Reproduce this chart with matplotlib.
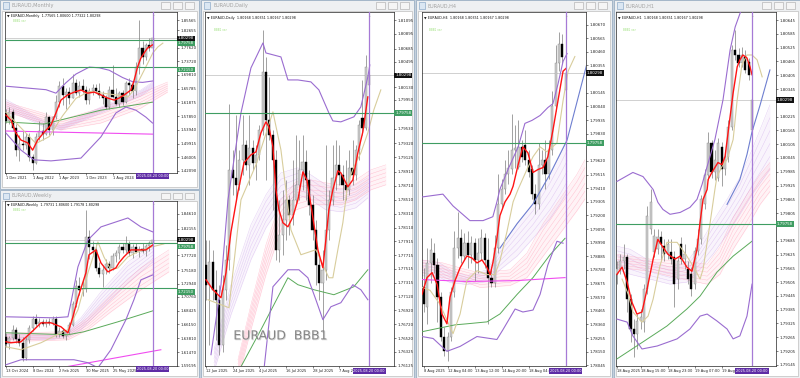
import numpy as np
import matplotlib
matplotlib.use("Agg")
import matplotlib.pyplot as plt
from matplotlib.patches import Rectangle
from matplotlib.transforms import blended_transform_factory
import matplotlib.patheffects as pe

# ==========================================
# data
# ==========================================
last_price = 1.80298
level_hi = 1.79758
level_lo = 1.72150
cursor_label = "2025.08.20 00:00"

# ---- Monthly (Dec 2021 .. Aug 2025), (open, high, low, close)
m_ohlc = [
    (1.588, 1.600, 1.560, 1.565), (1.565, 1.605, 1.555, 1.590), (1.590, 1.600, 1.535, 1.545),
    (1.545, 1.555, 1.465, 1.480), (1.480, 1.525, 1.450, 1.500), (1.500, 1.535, 1.480, 1.495),
    (1.495, 1.530, 1.485, 1.520), (1.520, 1.530, 1.450, 1.460), (1.460, 1.470, 1.425, 1.445),
    (1.445, 1.530, 1.440, 1.520), (1.520, 1.565, 1.510, 1.535), (1.535, 1.560, 1.510, 1.528),
    (1.528, 1.590, 1.525, 1.575), (1.575, 1.580, 1.525, 1.540), (1.540, 1.580, 1.525, 1.575),
    (1.575, 1.640, 1.570, 1.620), (1.620, 1.680, 1.605, 1.665), (1.665, 1.690, 1.610, 1.640),
    (1.640, 1.660, 1.600, 1.648), (1.648, 1.662, 1.615, 1.632), (1.632, 1.700, 1.630, 1.675),
    (1.675, 1.685, 1.640, 1.645), (1.645, 1.680, 1.635, 1.665), (1.665, 1.685, 1.645, 1.655),
    (1.655, 1.665, 1.615, 1.625), (1.625, 1.660, 1.615, 1.650), (1.650, 1.670, 1.640, 1.660),
    (1.660, 1.670, 1.645, 1.652), (1.652, 1.675, 1.630, 1.640), (1.640, 1.650, 1.615, 1.630),
    (1.630, 1.640, 1.600, 1.605), (1.605, 1.665, 1.600, 1.655), (1.655, 1.725, 1.630, 1.635),
    (1.635, 1.660, 1.610, 1.615), (1.615, 1.650, 1.605, 1.645), (1.645, 1.655, 1.610, 1.620),
    (1.620, 1.680, 1.618, 1.675), (1.675, 1.690, 1.640, 1.668), (1.668, 1.680, 1.630, 1.650),
    (1.650, 1.735, 1.640, 1.720), (1.720, 1.855, 1.700, 1.775), (1.775, 1.795, 1.730, 1.750),
    (1.750, 1.790, 1.740, 1.785), (1.785, 1.805, 1.765, 1.7757), (1.77565, 1.80600, 1.77322, 1.80298),
]
m_xticks = [0, 8, 16, 24, 32]
m_xlabels = ["1 Dec 2021", "1 Aug 2022", "1 Apr 2023", "1 Dec 2023", "1 Aug 2024"]
m_yticks = [1.85565, 1.82655, 1.77620, 1.73720, 1.69810, 1.65785, 1.61875, 1.57850,
            1.53940, 1.49915, 1.46005, 1.42090]
m_red_x = [0, 1.5, 3, 4.5, 6.5, 8, 9.5, 11.5, 13.5, 15, 16.5, 18.5, 20.5, 22.5, 24.5, 26.5,
           28.5, 30.5, 32.5, 34, 35.5, 37.5, 38.5, 39.5, 40.5, 41.5, 42.5, 44]
m_red = [1.582, 1.567, 1.530, 1.510, 1.502, 1.481, 1.510, 1.533, 1.553, 1.588, 1.625, 1.640,
         1.648, 1.654, 1.645, 1.648, 1.640, 1.631, 1.625, 1.631, 1.640, 1.654, 1.683, 1.720,
         1.746, 1.761, 1.775, 1.784]
m_khaki_x = [0, 5, 9, 13, 17, 21, 25, 29, 33, 36.6, 38.4, 40, 42.6, 44.1, 45.6, 47.1]
m_khaki = [1.590, 1.540, 1.500, 1.520, 1.580, 1.630, 1.650, 1.645, 1.640, 1.634, 1.654, 1.683,
           1.732, 1.761, 1.778, 1.789]
m_bbu_x = [0, 6, 12, 15, 18, 21, 25, 28, 31, 35, 38, 41, 44]
m_bbu = [1.665, 1.660, 1.655, 1.645, 1.675, 1.700, 1.720, 1.718, 1.711, 1.690, 1.678, 1.676, 1.680]
m_bbl_x = [0, 4.5, 8.4, 13.5, 22.5, 28.5, 33, 36, 39, 42, 44]
m_bbl = [1.530, 1.481, 1.453, 1.450, 1.458, 1.519, 1.588, 1.605, 1.596, 1.576, 1.559]
m_lav_x = [0, 11.4, 16.5, 28.5, 40.5, 44]
m_lav_top = [1.627, 1.565, 1.553, 1.605, 1.654, 1.677]
m_lav_bot = [1.599, 1.548, 1.539, 1.588, 1.637, 1.660]
m_pink_x = [0, 11, 16.5, 28.5, 40.5, 48.5]
m_pink_top = [1.619, 1.588, 1.568, 1.602, 1.645, 1.677]
m_pink_bot = [1.591, 1.559, 1.539, 1.559, 1.602, 1.648]
m_green_x = [0, 11.4, 28.5, 44]
m_green = [1.562, 1.556, 1.596, 1.619]
m_mag_x = [0, 44]
m_mag = [1.536, 1.527]

# ---- Weekly (13 Oct 2024 .. 17 Aug 2025)
w_ohlc = [
    (1.6400, 1.6460, 1.6230, 1.6280), (1.6280, 1.6420, 1.6200, 1.6380), (1.6380, 1.6600, 1.6350, 1.6520),
    (1.6520, 1.6560, 1.6300, 1.6360), (1.6360, 1.6450, 1.6250, 1.6300), (1.6300, 1.6400, 1.6000, 1.6050),
    (1.6050, 1.6400, 1.6020, 1.6350), (1.6350, 1.6600, 1.6300, 1.6550), (1.6550, 1.6750, 1.6500, 1.6700),
    (1.6700, 1.6780, 1.6580, 1.6620), (1.6620, 1.6720, 1.6560, 1.6650), (1.6650, 1.6700, 1.6580, 1.6610),
    (1.6610, 1.6700, 1.6560, 1.6660), (1.6660, 1.6720, 1.6600, 1.6630), (1.6630, 1.6750, 1.6600, 1.6700),
    (1.6700, 1.6760, 1.6400, 1.6450), (1.6450, 1.6560, 1.6400, 1.6500), (1.6500, 1.6550, 1.6380, 1.6420),
    (1.6420, 1.6520, 1.6350, 1.6480), (1.6480, 1.6650, 1.6450, 1.6600), (1.6600, 1.7000, 1.6580, 1.6950),
    (1.6950, 1.7350, 1.6900, 1.7250), (1.7250, 1.7400, 1.7100, 1.7180), (1.7180, 1.7350, 1.7080, 1.7200),
    (1.7200, 1.8530, 1.7150, 1.8080), (1.8080, 1.8200, 1.7700, 1.7900), (1.7900, 1.8000, 1.7750, 1.7850),
    (1.7850, 1.7950, 1.7500, 1.7550), (1.7550, 1.7650, 1.7400, 1.7450), (1.7450, 1.7600, 1.7230, 1.7530),
    (1.7530, 1.7700, 1.7450, 1.7620), (1.7620, 1.7680, 1.7480, 1.7560), (1.7560, 1.7800, 1.7530, 1.7750),
    (1.7750, 1.7850, 1.7650, 1.7800), (1.7800, 1.7950, 1.7700, 1.7900), (1.7900, 1.7980, 1.7800, 1.7850),
    (1.7850, 1.8100, 1.7800, 1.7950), (1.7950, 1.8000, 1.7750, 1.7800), (1.7800, 1.7950, 1.7720, 1.7900),
    (1.7900, 1.7980, 1.7800, 1.7820), (1.7820, 1.7920, 1.7740, 1.7880), (1.7880, 1.7980, 1.7800, 1.7840),
    (1.7840, 1.7960, 1.7750, 1.7920), (1.7920, 1.8000, 1.7840, 1.7973), (1.79731, 1.80600, 1.79178, 1.80298),
]
w_xticks = [0, 8, 16, 24, 32]
w_xlabels = ["13 Oct 2024", "8 Dec 2024", "2 Feb 2025", "30 Mar 2025", "25 May 2025"]
w_yticks = [1.84610, 1.82155, 1.77720, 1.75180, 1.72940, 1.70760, 1.68425, 1.66150,
            1.63810, 1.61470, 1.59195]
w_red_x = [0, 1.5, 4.5, 8.4, 10.5, 13.5, 16.5, 18.6, 20.1, 21.6, 24, 24.9, 27, 28.5, 30.6,
           33, 33.9, 35.4, 37.5, 39.9, 42, 44.1]
w_red = [1.6321, 1.6304, 1.6321, 1.6522, 1.6638, 1.6638, 1.6572, 1.6471, 1.6739, 1.7057,
         1.7475, 1.7776, 1.7859, 1.7642, 1.7491, 1.7558, 1.7642, 1.7742, 1.7859, 1.7859,
         1.7859, 1.7943]
w_khaki_x = [0, 4.5, 10.5, 16.5, 18.6, 21.6, 24.6, 27.6, 29.4, 31.5, 33.6, 36.6, 39.6, 42.6, 47.4]
w_khaki = [1.6237, 1.6187, 1.6304, 1.6471, 1.6522, 1.6856, 1.7475, 1.7993, 1.7742, 1.7525,
           1.7558, 1.7742, 1.7826, 1.7893, 1.7959]
w_bbu_x = [0, 14.4, 18.6, 19.5, 21.6, 24.6, 28.5, 36.6, 40.5, 44.1]
w_bbu = [1.6739, 1.6722, 1.6739, 1.6973, 1.7575, 1.8026, 1.8244, 1.8394, 1.8244, 1.8160]
w_bbl_x = [0, 4.5, 13.5, 20.4, 24.6, 27.6, 31.5, 36, 38.4, 40.5, 44.1]
w_bbl = [1.5936, 1.6020, 1.6020, 1.6020, 1.5970, 1.5886, 1.6187, 1.6689, 1.7023, 1.7357, 1.7441]
w_lav_x = [0, 13.5, 18.6, 22.5, 28.5, 36.6, 44.1]
w_lav_top = [1.6471, 1.6438, 1.6522, 1.6722, 1.7157, 1.7659, 1.7943]
w_lav_bot = [1.6354, 1.6354, 1.6404, 1.6522, 1.6856, 1.7307, 1.7659]
w_pink_x = [0, 18.6, 24.6, 31.5, 40.5, 48.9]
w_pink_top = [1.6471, 1.6488, 1.6722, 1.7107, 1.7558, 1.7859]
w_pink_bot = [1.6321, 1.6354, 1.6522, 1.6822, 1.7190, 1.7491]
w_green_x = [0, 18.6, 23.4, 33.6, 44.1]
w_green = [1.6471, 1.6438, 1.6488, 1.6655, 1.6839]
w_mag_x = [16.5, 46.5]
w_mag = [1.5886, 1.6187]

# ---- Daily (12 Jun 2025 .. 20 Aug 2025)
d_ohlc = [
    (1.77576, 1.77935, 1.77073, 1.77289), (1.77289, 1.77935, 1.76426, 1.77619), (1.77619, 1.77792, 1.77073, 1.77217),
    (1.77217, 1.77504, 1.76498, 1.77073), (1.77073, 1.77289, 1.76283, 1.76426), (1.76426, 1.77432, 1.76326, 1.77217),
    (1.77217, 1.77863, 1.77073, 1.77648), (1.77648, 1.79890, 1.77504, 1.78941), (1.78941, 1.79229, 1.78582, 1.78826),
    (1.78826, 1.79731, 1.78510, 1.78726), (1.78726, 1.79229, 1.78654, 1.79085), (1.79085, 1.79731, 1.78869, 1.79300),
    (1.79300, 1.79372, 1.78941, 1.79013), (1.79013, 1.79731, 1.78726, 1.79257), (1.79257, 1.79372, 1.78941, 1.79042),
    (1.79042, 1.79300, 1.78797, 1.79157), (1.79157, 1.79588, 1.79085, 1.79516), (1.79516, 1.80953, 1.79444, 1.80349),
    (1.80349, 1.80565, 1.78797, 1.79660), (1.79660, 1.80278, 1.79372, 1.79444), (1.79444, 1.79516, 1.78366, 1.79085),
    (1.79085, 1.79229, 1.77648, 1.77792), (1.77792, 1.78510, 1.77619, 1.78007), (1.78007, 1.78654, 1.77720, 1.78223),
    (1.78223, 1.78797, 1.77935, 1.78510), (1.78510, 1.78582, 1.78007, 1.78294), (1.78294, 1.79085, 1.78151, 1.78510),
    (1.78510, 1.79444, 1.78438, 1.78726), (1.78726, 1.79372, 1.78510, 1.78941), (1.78941, 1.79444, 1.78654, 1.79056),
    (1.79056, 1.79229, 1.78510, 1.78797), (1.78797, 1.78941, 1.78294, 1.78438), (1.78438, 1.78582, 1.77935, 1.78079),
    (1.78079, 1.78223, 1.77289, 1.77576), (1.77576, 1.77720, 1.77073, 1.77317), (1.77317, 1.77792, 1.76613, 1.77504),
    (1.77504, 1.79300, 1.77360, 1.78079), (1.78079, 1.78654, 1.77935, 1.78510), (1.78510, 1.79300, 1.78438, 1.78826),
    (1.78826, 1.79372, 1.78654, 1.79013), (1.79013, 1.79300, 1.78726, 1.78869), (1.78869, 1.79013, 1.78510, 1.78726),
    (1.78726, 1.79085, 1.78510, 1.78654), (1.78654, 1.79229, 1.78582, 1.78970), (1.78970, 1.79372, 1.78726, 1.78869),
    (1.78869, 1.79300, 1.78797, 1.79229), (1.79229, 1.79660, 1.79085, 1.79588), (1.79688, 1.80234, 1.79444, 1.79545),
    (1.79545, 1.80594, 1.79516, 1.80421), (1.80168, 1.80351, 1.80167, 1.80298),
]
d_xticks = [0, 8, 16, 24, 32, 40]
d_xlabels = ["12 Jun 2025", "24 Jun 2025", "4 Jul 2025", "16 Jul 2025", "28 Jul 2025", "7 Aug 2"]
d_yticks = [1.76125, 1.76325, 1.76520, 1.76720, 1.76920, 1.77120, 1.77315, 1.77515, 1.77715,
            1.77915, 1.78110, 1.78310, 1.78510, 1.78710, 1.78910, 1.79125, 1.79320, 1.79530,
            1.79950, 1.80130, 1.80495, 1.80685, 1.80895, 1.81095]
d_red_x = [0, 2.1, 4.5, 6, 7.5, 9.6, 11.4, 13.5, 15, 16.5, 18, 18.9, 20.1, 21, 21.9, 23.1, 24.6,
           26.1, 27.6, 29.1, 30.3, 31.5, 33.6, 35.1, 36, 36.9, 38.1, 39.6, 40.5, 42.6, 44.1,
           45.6, 47.1, 48.6]
d_red = [1.77360, 1.77217, 1.77102, 1.77461, 1.78050, 1.78625, 1.79042, 1.79157, 1.79200,
         1.79473, 1.79631, 1.79559, 1.79272, 1.78654, 1.78366, 1.78180, 1.78122, 1.78266,
         1.78510, 1.78912, 1.78797, 1.78438, 1.77792, 1.77533, 1.77935, 1.78366, 1.78654,
         1.78927, 1.78898, 1.78697, 1.78797, 1.79185, 1.79487, 1.79990]
d_khaki_x = [0.6, 6.9, 10.5, 15, 20.1, 22.5, 25.5, 28.5, 33, 36.9, 38.1, 39.6, 41.1, 42.6,
             44.4, 46.5, 48.6, 50.4, 52.5]
d_khaki = [1.77073, 1.76958, 1.78510, 1.79013, 1.79775, 1.79229, 1.78079, 1.77720, 1.77792,
           1.77389, 1.77389, 1.77792, 1.78180, 1.78754, 1.78984, 1.79185, 1.79473, 1.79803, 1.80091]
d_bbu_x = [1.5, 4.5, 6.6, 10.5, 13.5, 17.1, 18, 22.5, 24.6, 27.6, 31.5, 33.9, 36.9, 38.1,
           40.5, 44.4, 46.5, 48.6, 49.2]
d_bbu = [1.76283, 1.77289, 1.78510, 1.79760, 1.80407, 1.80766, 1.80622, 1.80565, 1.80234,
         1.80234, 1.80206, 1.80091, 1.79760, 1.79645, 1.79631, 1.79703, 1.79846, 1.80278, 1.80450]
d_bbl_x = [17.4, 20.1, 24.6, 27.9, 30.6, 33, 35.1, 37.5, 40.5, 44.1, 46.5, 48.6]
d_bbl = [1.76067, 1.77260, 1.77504, 1.77504, 1.77389, 1.77073, 1.76786, 1.76972, 1.77030,
         1.77289, 1.77217, 1.77073]
d_green_x = [10.5, 16.5, 24.6, 27.6, 32.4, 38.4, 44.4, 48.6]
d_green = [1.76110, 1.76642, 1.77389, 1.77289, 1.77217, 1.77145, 1.77260, 1.77504]
d_lav_x = [2.4, 7.5, 13.5, 18, 22.5, 27.6, 31.5, 36, 40.5, 45, 48.6]
d_lav_top = [1.76355, 1.77289, 1.78151, 1.78582, 1.78898, 1.78970, 1.78869, 1.78726, 1.78654, 1.78726, 1.78826]
d_lav_bot = [1.76038, 1.76857, 1.77648, 1.78108, 1.78438, 1.78582, 1.78510, 1.78366, 1.78338, 1.78395, 1.78539]
d_pink_x = [9.6, 13.5, 18, 22.5, 27, 31.5, 36, 40.5, 45, 49.5, 54]
d_pink_top = [1.76211, 1.77001, 1.77863, 1.78510, 1.78769, 1.78797, 1.78754, 1.78726, 1.78797, 1.78941, 1.79013]
d_pink_bot = [1.75923, 1.76642, 1.77432, 1.78079, 1.78366, 1.78438, 1.78438, 1.78438, 1.78510, 1.78654, 1.78726]

# ---- H4 (11 Aug 2025 .. 20 Aug 2025)
h4_ohlc = [
    (1.78645, 1.78797, 1.78456, 1.78517), (1.78494, 1.78948, 1.78365, 1.78834), (1.78834, 1.79024, 1.78683, 1.78933),
    (1.78910, 1.78986, 1.78759, 1.78819), (1.78819, 1.78872, 1.78380, 1.78570), (1.78570, 1.78607, 1.78229, 1.78267),
    (1.78267, 1.78342, 1.78115, 1.78153), (1.78153, 1.78304, 1.78077, 1.78267), (1.78267, 1.78645, 1.78229, 1.78607),
    (1.78607, 1.79077, 1.78570, 1.78948), (1.78948, 1.79228, 1.78872, 1.79024), (1.79024, 1.79099, 1.78834, 1.78887),
    (1.78887, 1.79061, 1.78857, 1.78986), (1.78986, 1.79077, 1.78797, 1.78895), (1.78895, 1.79039, 1.78834, 1.78986),
    (1.78986, 1.79024, 1.78698, 1.78857), (1.78857, 1.79024, 1.78759, 1.78910), (1.78910, 1.79099, 1.78857, 1.79024),
    (1.79024, 1.79061, 1.78797, 1.78857), (1.78857, 1.79024, 1.78365, 1.78721), (1.78721, 1.78797, 1.78645, 1.78683),
    (1.78683, 1.79046, 1.78645, 1.78948), (1.78948, 1.79516, 1.78910, 1.79289), (1.79289, 1.79478, 1.79251, 1.79402),
    (1.79402, 1.79629, 1.79364, 1.79516), (1.79516, 1.79705, 1.79440, 1.79569), (1.79554, 1.79985, 1.79516, 1.79705),
    (1.79705, 1.79894, 1.79569, 1.79720), (1.79576, 1.79932, 1.79554, 1.79728), (1.79728, 1.79781, 1.79614, 1.79652),
    (1.79743, 1.79856, 1.79591, 1.79629), (1.79629, 1.79705, 1.79493, 1.79538), (1.79554, 1.79591, 1.79327, 1.79364),
    (1.79364, 1.79440, 1.79213, 1.79289), (1.79289, 1.79758, 1.79251, 1.79591), (1.79591, 1.79705, 1.79516, 1.79629),
    (1.79629, 1.79781, 1.79402, 1.79516), (1.79516, 1.79781, 1.79478, 1.79705), (1.79705, 1.80159, 1.79667, 1.80046),
    (1.80046, 1.80515, 1.80008, 1.80371), (1.80371, 1.80613, 1.80311, 1.80523), (1.80523, 1.80598, 1.80371, 1.80424),
    (1.80168, 1.80351, 1.80167, 1.80298),
]
h4_xticks = [0, 7, 15, 23, 31]
h4_xlabels = ["8 Aug 2025", "12 Aug 04:00", "13 Aug 12:00", "14 Aug 20:00", "18 Aug 04:"]
h4_yticks = [1.78045, 1.78150, 1.78255, 1.78360, 1.78465, 1.78570, 1.78675, 1.78780, 1.78885,
             1.78990, 1.79095, 1.79200, 1.79305, 1.79410, 1.79515, 1.79620, 1.79830, 1.79935,
             1.80040, 1.80145, 1.80355, 1.80460, 1.80565, 1.80670]
h4_red_x = [-0.6, 0.9, 2.4, 3.9, 5.3, 6.8, 7.7, 9.2, 10.7, 12.7, 14.2, 15.7, 17.2, 18.7, 19.6,
            20.4, 21.6, 22.5, 24, 25.5, 26.4, 27.9, 29.3, 30.8, 32.3, 33.8, 35.3, 36.7, 38.2,
            39.7, 41.2, 42.1]
h4_red = [1.78592, 1.78721, 1.78759, 1.78668, 1.78441, 1.78365, 1.78570, 1.78698, 1.78797,
          1.78887, 1.78872, 1.78834, 1.78857, 1.78797, 1.78744, 1.78834, 1.79024, 1.79198,
          1.79304, 1.79364, 1.79425, 1.79591, 1.79728, 1.79682, 1.79531, 1.79554, 1.79569,
          1.79652, 1.79856, 1.80084, 1.80311, 1.80333]
h4_khaki_x = [-0.6, 1.8, 4.7, 8.6, 10.7, 12.7, 15.7, 18.7, 21, 22.5, 24.6, 26.4, 27.9, 30.5,
              32.3, 34.4, 36.4, 39.4, 41.2, 42.7, 44.7]
h4_khaki = [1.78645, 1.78623, 1.78517, 1.78289, 1.78441, 1.78698, 1.78774, 1.78744, 1.78744,
            1.78850, 1.79077, 1.79304, 1.79402, 1.79554, 1.79652, 1.79728, 1.79690, 1.79758,
            1.80084, 1.80311, 1.80424]
h4_bbu_x = [-0.6, 5.6, 8.6, 13.6, 17.5, 20.4, 21.6, 22.5, 24.9, 27.9, 29.9, 32, 34.4, 36.7,
            38.2, 39.7, 41.2, 42.4]
h4_bbu = [1.79342, 1.79364, 1.79273, 1.79160, 1.79160, 1.79190, 1.79304, 1.79402, 1.79554,
          1.79728, 1.79909, 1.79932, 1.79970, 1.80031, 1.80061, 1.80212, 1.80386, 1.80447]
h4_bbl_x = [-0.6, 2.7, 6.8, 10.7, 15.7, 21.6, 23.4, 27, 29.3, 32.3, 34.4, 36.7, 39.4, 41.2]
h4_bbl = [1.78267, 1.78252, 1.78153, 1.78191, 1.78267, 1.78244, 1.78320, 1.78479, 1.78456,
          1.78471, 1.78592, 1.78819, 1.79001, 1.78986]
h4_lav_x = [-0.6, 4.7, 7.7, 12.7, 18.7, 22.5, 27.6, 32.3, 37.3, 40.3, 42.4]
h4_lav_top = [1.78857, 1.78834, 1.78781, 1.78736, 1.78781, 1.78948, 1.79137, 1.79289, 1.79516, 1.79667, 1.79781]
h4_lav_bot = [1.78736, 1.78721, 1.78683, 1.78668, 1.78690, 1.78781, 1.78887, 1.79024, 1.79175, 1.79289, 1.79380]
h4_blue_x = [22.5, 27.6, 32.3, 37.3, 42.4, 48.3]
h4_blue = [1.78948, 1.79137, 1.79289, 1.79516, 1.79781, 1.80371]
h4_pink_x = [-0.6, 5.6, 12.7, 16.6, 25.5, 30.5, 35.3, 40.3, 45.3, 47.7]
h4_pink_top = [1.78857, 1.78834, 1.78781, 1.78759, 1.78781, 1.78910, 1.79137, 1.79327, 1.79516, 1.79629]
h4_pink_bot = [1.78759, 1.78721, 1.78683, 1.78645, 1.78660, 1.78721, 1.78887, 1.79061, 1.79236, 1.79327]
h4_green_x = [-0.6, 9.2, 12.7, 18.7, 22.5, 27.6, 32.3, 37.3, 41.8]
h4_green = [1.78304, 1.78357, 1.78365, 1.78380, 1.78441, 1.78592, 1.78721, 1.78895, 1.79024]
h4_mag_x = [-0.6, 12.7, 27.6, 41.8]
h4_mag = [1.78706, 1.78691, 1.78698, 1.78721]

# ---- H1 (18 Aug 08:00 .. 20 Aug 00:00)
h1_ohlc = [
    (1.79539, 1.79596, 1.79496, 1.79561), (1.79561, 1.79626, 1.79539, 1.79596), (1.79596, 1.79670, 1.79561, 1.79613),
    (1.79613, 1.79626, 1.79375, 1.79431), (1.79431, 1.79453, 1.79245, 1.79301), (1.79301, 1.79344, 1.79180, 1.79279),
    (1.79279, 1.79366, 1.79214, 1.79336), (1.79336, 1.79388, 1.79301, 1.79353), (1.79331, 1.79496, 1.79288, 1.79474),
    (1.79474, 1.79834, 1.79453, 1.79791), (1.79735, 1.79908, 1.79713, 1.79852), (1.79635, 1.79735, 1.79613, 1.79704),
    (1.79648, 1.79735, 1.79626, 1.79700), (1.79700, 1.79726, 1.79596, 1.79670), (1.79661, 1.79691, 1.79596, 1.79626),
    (1.79626, 1.79691, 1.79605, 1.79670), (1.79635, 1.79691, 1.79583, 1.79605), (1.79613, 1.79639, 1.79396, 1.79496),
    (1.79518, 1.79613, 1.79474, 1.79596), (1.79670, 1.79700, 1.79583, 1.79605), (1.79605, 1.79670, 1.79561, 1.79626),
    (1.79561, 1.79596, 1.79496, 1.79518), (1.79539, 1.79570, 1.79444, 1.79474), (1.79496, 1.79657, 1.79474, 1.79639),
    (1.79639, 1.79735, 1.79622, 1.79691), (1.79691, 1.79886, 1.79670, 1.79865), (1.79843, 1.79995, 1.79821, 1.79973),
    (1.79973, 1.80159, 1.79951, 1.80112), (1.80112, 1.80125, 1.79960, 1.79986), (1.79986, 1.80081, 1.79951, 1.80038),
    (1.79960, 1.80133, 1.79943, 1.80112), (1.80094, 1.80116, 1.79921, 1.79995), (1.79995, 1.80081, 1.79973, 1.80051),
    (1.80051, 1.80211, 1.80029, 1.80181), (1.80181, 1.80537, 1.80168, 1.80515), (1.80515, 1.80602, 1.80472, 1.80493),
    (1.80493, 1.80524, 1.80441, 1.80459), (1.80459, 1.80528, 1.80441, 1.80493), (1.80485, 1.80515, 1.80415, 1.80428),
    (1.80463, 1.80480, 1.80385, 1.80407), (1.80168, 1.80351, 1.80167, 1.80298),
]
h1_xticks = [0, 7, 15, 23, 31]
h1_xlabels = ["18 Aug 2025", "18 Aug 15:00", "18 Aug 23:00", "19 Aug 07:00", "19 Aug"]
h1_yticks = [1.79145, 1.79205, 1.79265, 1.79325, 1.79385, 1.79445, 1.79505, 1.79565, 1.79625,
             1.79685, 1.79805, 1.79865, 1.79925, 1.79985, 1.80045, 1.80105, 1.80165, 1.80225,
             1.80345, 1.80405, 1.80465, 1.80525, 1.80585, 1.80645]
h1_red_x = [0, 1.5, 3, 4.4, 5.9, 7.4, 8.9, 10.7, 12.1, 13.6, 15.1, 17.2, 18.7, 20.7, 22.2, 23.7,
            24.6, 25.5, 26.7, 27, 28.1, 29.9, 31.1, 32, 32.9, 34.4, 35.6, 36.4, 37.3, 38.5, 39.4, 40]
h1_red = [1.79539, 1.79570, 1.79505, 1.79418, 1.79366, 1.79375, 1.79474, 1.79605, 1.79691,
          1.79657, 1.79626, 1.79605, 1.79618, 1.79570, 1.79552, 1.79648, 1.79765, 1.79865,
          1.79908, 1.79951, 1.79982, 1.80025, 1.80016, 1.80051, 1.80155, 1.80328, 1.80441,
          1.80472, 1.80493, 1.80480, 1.80441, 1.80407]
h1_khaki_x = [1.5, 3.3, 4.7, 7.4, 9.2, 10.7, 12.7, 14.8, 17.8, 20.7, 23.1, 24.6, 25.5, 27.6,
              29, 29.6, 31.1, 32.6, 34.4, 35.6, 37, 38.5, 40, 41.5, 43]
h1_khaki = [1.79518, 1.79453, 1.79375, 1.79331, 1.79357, 1.79431, 1.79574, 1.79678, 1.79678,
            1.79618, 1.79561, 1.79518, 1.79561, 1.79765, 1.79908, 1.79964, 1.80008, 1.80038,
            1.80125, 1.80298, 1.80450, 1.80493, 1.80493, 1.80472, 1.80398]
h1_bbu_x = [0, 4.7, 7.7, 10.7, 12.1, 13.6, 15.7, 18.7, 21.6, 23.7, 25.2, 26.7, 29, 31.4, 33.5, 35, 37]
h1_bbu = [1.79943, 1.79982, 1.79964, 1.79908, 1.79852, 1.79821, 1.79800, 1.79808, 1.79830,
          1.79865, 1.79930, 1.80008, 1.80125, 1.80298, 1.80515, 1.80615, 1.80697]
h1_bbl_x = [0, 3, 4.7, 7.4, 11.9, 17.8, 21.6, 24.6, 26.7, 29.6, 32.6, 34.4, 36.4, 38.5, 40]
h1_bbl = [1.79344, 1.79331, 1.79271, 1.79214, 1.79227, 1.79258, 1.79301, 1.79357, 1.79366,
          1.79336, 1.79301, 1.79258, 1.79271, 1.79357, 1.79496]
h1_green_x = [0, 7.7, 14.8, 20.7, 24.6, 29.6, 34.4, 40]
h1_green = [1.79171, 1.79245, 1.79314, 1.79388, 1.79444, 1.79548, 1.79618, 1.79683]
h1_lav_x = [0, 3.9, 9.8, 15.7, 20.7, 24.6, 28.4, 32.6, 36.4, 40, 45.3]
h1_lav_top = [1.79661, 1.79648, 1.79596, 1.79570, 1.79592, 1.79670, 1.79769, 1.79865, 1.79960, 1.80081, 1.80276]
h1_lav_bot = [1.79561, 1.79539, 1.79518, 1.79496, 1.79505, 1.79561, 1.79626, 1.79713, 1.79800, 1.79886, 1.79995]
h1_blue_x = [32.6, 36.4, 38.5, 40, 42.4, 45.3]
h1_blue = [1.79843, 1.79951, 1.80060, 1.80159, 1.80276, 1.80428]
h1_pink_x = [0, 9.8, 19.6, 26.7, 30.5, 34.4, 38.5, 42.4, 45.3]
h1_pink_top = [1.79626, 1.79605, 1.79596, 1.79583, 1.79657, 1.79787, 1.79886, 1.79973, 1.80025]
h1_pink_bot = [1.79570, 1.79552, 1.79518, 1.79496, 1.79539, 1.79648, 1.79743, 1.79843, 1.79899]

# ==========================================
# style
# ==========================================
C_BULL, C_BULL_EDGE, C_BEAR, C_WICK = "#cdcdcd", "#8a8a8a", "#000000", "#7c7c7c"
C_RED, C_KHAKI, C_BB = "#ff1414", "#d8cd9c", "#9a6cd0"
C_GREEN, C_MAG, C_LAV, C_PINK, C_BLUE = "#5aaa5a", "#f04cf0", "#c79be8", "#ff8aa8", "#6e7fd0"
C_LEVEL, C_VLINE, C_TAGP = "#3f9d62", "#a67ad6", "#5e2ca5"

W, H = 800, 378
fig = plt.figure(figsize=(8, 3.78), dpi=100)
fig.patch.set_facecolor("#c5d0dc")


def frect(x0, y0, x1, y1, **kw):
    # window chrome sits under the chart axes
    fig.add_artist(Rectangle((x0 / W, 1 - y1 / H), (x1 - x0) / W, (y1 - y0) / H,
                             transform=fig.transFigure, zorder=-10, **kw))


def window(x0, y0, x1, y1, title):
    frect(x0, y0, x1, y1, facecolor="#eef0f2", edgecolor="#9cb0c4", lw=0.6)
    frect(x0 + 3, y0 + 2.5, x0 + 9, y0 + 8.5, facecolor="#dbe7f3", edgecolor="#7a9cc0", lw=0.4)
    fig.text((x0 + 12) / W, 1 - (y0 + 5.8) / H, title, fontsize=3.6, color="#a2a2a2", va="center")
    for k in range(3):
        bx = x1 - 38 + k * 12
        frect(bx, y0 + 2.5, bx + 9, y0 + 8.5, facecolor="#f5f5f5", edgecolor="#a8a8a8", lw=0.4)
    frect(x0 + 2, y0 + 11, x1 - 2, y1 - 2, facecolor="white", edgecolor="#b0b0b0", lw=0.4)


def panel(x0, y0, x1, y1, xlim, ylim, yticks, xticks, xlabels):
    ax = fig.add_axes([x0 / W, 1 - y1 / H, (x1 - x0) / W, (y1 - y0) / H])
    ax.set_facecolor("white")
    ax.set_xlim(*xlim)
    ax.set_ylim(*ylim)
    for s in ax.spines.values():
        s.set_linewidth(0.5)
        s.set_color("#222222")
    ax.yaxis.tick_right()
    ax.set_yticks(yticks)
    ax.set_yticklabels([f"{v:.5f}" for v in yticks])
    ax.set_xticks(xticks)
    ax.set_xticklabels(xlabels, ha="left")
    ax.tick_params(axis="y", labelsize=2.8, length=1.5, width=0.4, pad=1.2, colors="#222222")
    ax.tick_params(axis="x", labelsize=2.6, length=1.5, width=0.4, pad=1.0, colors="#222222")
    return ax


def candles(ax, ohlc):
    o, h, l, c = np.array(ohlc).T
    x = np.arange(len(o))
    ax.vlines(x, l, h, color=C_WICK, lw=0.5, zorder=3)
    up = c >= o
    ax.bar(x[up], (c - o)[up], bottom=o[up], width=0.64, color=C_BULL,
           edgecolor=C_BULL_EDGE, lw=0.3, zorder=4)
    ax.bar(x[~up], (o - c)[~up], bottom=c[~up], width=0.64, color=C_BEAR,
           edgecolor=C_BEAR, lw=0.3, zorder=4)


def ribbon(ax, x, top, bot, color, n=5):
    top, bot = np.array(top), np.array(bot)
    ax.fill_between(x, top, bot, color=color, alpha=0.10, lw=0, zorder=2)
    for k in range(n + 1):
        ax.plot(x, top + (bot - top) * k / n, color=color, lw=0.3, alpha=0.55, zorder=2)


def overlay(ax, cur, levels, tf, hdr, tag_nudge=0.0):
    ax.axhline(last_price, color="#c9c9c9", lw=0.6, zorder=1)
    for lv in levels:
        ax.axhline(lv, color=C_LEVEL, lw=0.8, zorder=5)
    ax.axvline(cur, color=C_VLINE, lw=0.9, zorder=6)
    trx = blended_transform_factory(ax.transData, ax.transAxes)
    ax.text(cur, -0.008, cursor_label, transform=trx, ha="center", va="top", fontsize=2.5,
            color="white", bbox=dict(boxstyle="square,pad=0.25", fc=C_TAGP, ec="none"),
            clip_on=False, zorder=10)
    ax.text(cur, 0.995, "\u2304", transform=trx, ha="center", va="top", fontsize=3,
            color="#999999", zorder=10)
    try_ = blended_transform_factory(ax.transAxes, ax.transData)
    ax.text(1.006, last_price, f"{last_price:.5f}", transform=try_, ha="left",
            va="center", fontsize=2.8, color="white", clip_on=False, zorder=10,
            bbox=dict(boxstyle="square,pad=0.2", fc="#111111", ec="none"))
    for lv in levels:
        ax.text(1.006, lv - tag_nudge, f"{lv:.5f}", transform=try_, ha="left", va="center",
                fontsize=2.8, color="white", clip_on=False, zorder=10,
                bbox=dict(boxstyle="square,pad=0.2", fc=C_LEVEL, ec="none"))
    ax.text(0.012, 0.99, f"\u25bc EURAUD,{tf}  {hdr}", transform=ax.transAxes, fontsize=2.4,
            va="top", ha="left", color="#111111", zorder=10)
    ax.text(0.045, 0.955, "BBB1 ver", transform=ax.transAxes, fontsize=2.0, va="top",
            ha="left", color="#9de07c", zorder=10)


def indicators(ax, red, khaki, bbu, bbl, green, lav, pink, mag=None, blue=None):
    ribbon(ax, *lav, C_LAV)
    ribbon(ax, *pink, C_PINK)
    if blue is not None:
        ax.plot(*blue, color=C_BLUE, lw=0.8, zorder=5)
    ax.plot(*green, color=C_GREEN, lw=0.7, zorder=5)
    if mag is not None:
        ax.plot(*mag, color=C_MAG, lw=0.8, zorder=5)
    ax.plot(*bbu, color=C_BB, lw=0.8, zorder=5)
    ax.plot(*bbl, color=C_BB, lw=0.8, zorder=5)
    ax.plot(*khaki, color=C_KHAKI, lw=0.8, zorder=5)
    ax.plot(*red, color=C_RED, lw=1.0, zorder=6)


# ==========================================
# windows
# ==========================================
window(0, 0, 199, 189, "EURAUD,Monthly")
window(0, 190, 199, 378, "EURAUD,Weekly")
window(201, 0, 414, 378, "EURAUD,Daily")
window(416, 0, 612, 378, "EURAUD,H4")
window(614, 0, 800, 378, "EURAUD,H1")

# Monthly
ax = panel(5, 12, 177, 173, (-0.3, 51.35), (1.4151, 1.8787), m_yticks, m_xticks, m_xlabels)
indicators(ax, (m_red_x, m_red), (m_khaki_x, m_khaki), (m_bbu_x, m_bbu), (m_bbl_x, m_bbl),
           (m_green_x, m_green), (m_lav_x, m_lav_top, m_lav_bot),
           (m_pink_x, m_pink_top, m_pink_bot), mag=(m_mag_x, m_mag))
candles(ax, m_ohlc)
overlay(ax, len(m_ohlc) - 1, [level_hi, level_lo], "Monthly", "1.77565 1.80600 1.77322 1.80298",
        tag_nudge=0.009)

# Weekly
ax = panel(5, 201, 177, 366, (-0.3, 51.35), (1.5915, 1.8678), w_yticks, w_xticks, w_xlabels)
indicators(ax, (w_red_x, w_red), (w_khaki_x, w_khaki), (w_bbu_x, w_bbu), (w_bbl_x, w_bbl),
           (w_green_x, w_green), (w_lav_x, w_lav_top, w_lav_bot),
           (w_pink_x, w_pink_top, w_pink_bot), mag=(w_mag_x, w_mag))
candles(ax, w_ohlc)
overlay(ax, len(w_ohlc) - 1, [level_hi, level_lo], "Weekly", "1.79731 1.80600 1.79178 1.80298",
        tag_nudge=0.006)

# Daily
ax = panel(205, 12, 394, 366, (-0.3, 56.46), (1.76120, 1.81211), d_yticks, d_xticks, d_xlabels)
indicators(ax, (d_red_x, d_red), (d_khaki_x, d_khaki), (d_bbu_x, d_bbu), (d_bbl_x, d_bbl),
           (d_green_x, d_green), (d_lav_x, d_lav_top, d_lav_bot),
           (d_pink_x, d_pink_top, d_pink_bot))
candles(ax, d_ohlc)
overlay(ax, len(d_ohlc) - 1, [level_hi], "Daily", "1.80168 1.80351 1.80167 1.80298")
ax.text(0.15, 0.085, "EURAUD  BBB1", transform=ax.transAxes, fontsize=9, color="#858585",
        ha="left", va="center", zorder=7,
        path_effects=[pe.withSimplePatchShadow(offset=(0.6, -0.6), shadow_rgbFace="#d6d6d6", alpha=1)])

# H4
ax = panel(422, 12, 586, 366, (-0.59, 48.0), (1.78040, 1.80767), h4_yticks, h4_xticks, h4_xlabels)
indicators(ax, (h4_red_x, h4_red), (h4_khaki_x, h4_khaki), (h4_bbu_x, h4_bbu), (h4_bbl_x, h4_bbl),
           (h4_green_x, h4_green), (h4_lav_x, h4_lav_top, h4_lav_bot),
           (h4_pink_x, h4_pink_top, h4_pink_bot), mag=(h4_mag_x, h4_mag),
           blue=(h4_blue_x, h4_blue))
candles(ax, h4_ohlc)
overlay(ax, len(h4_ohlc) - 1, [level_hi], "H4", "1.80168 1.80351 1.80167 1.80298")

# H1
ax = panel(616, 12, 776, 366, (-0.3, 47.1), (1.79140, 1.80680), h1_yticks, h1_xticks, h1_xlabels)
indicators(ax, (h1_red_x, h1_red), (h1_khaki_x, h1_khaki), (h1_bbu_x, h1_bbu), (h1_bbl_x, h1_bbl),
           (h1_green_x, h1_green), (h1_lav_x, h1_lav_top, h1_lav_bot),
           (h1_pink_x, h1_pink_top, h1_pink_bot), blue=(h1_blue_x, h1_blue))
candles(ax, h1_ohlc)
overlay(ax, len(h1_ohlc) - 1, [level_hi], "H1", "1.80168 1.80351 1.80167 1.80298")

fig.savefig("out.png", dpi=100, facecolor=fig.get_facecolor())
